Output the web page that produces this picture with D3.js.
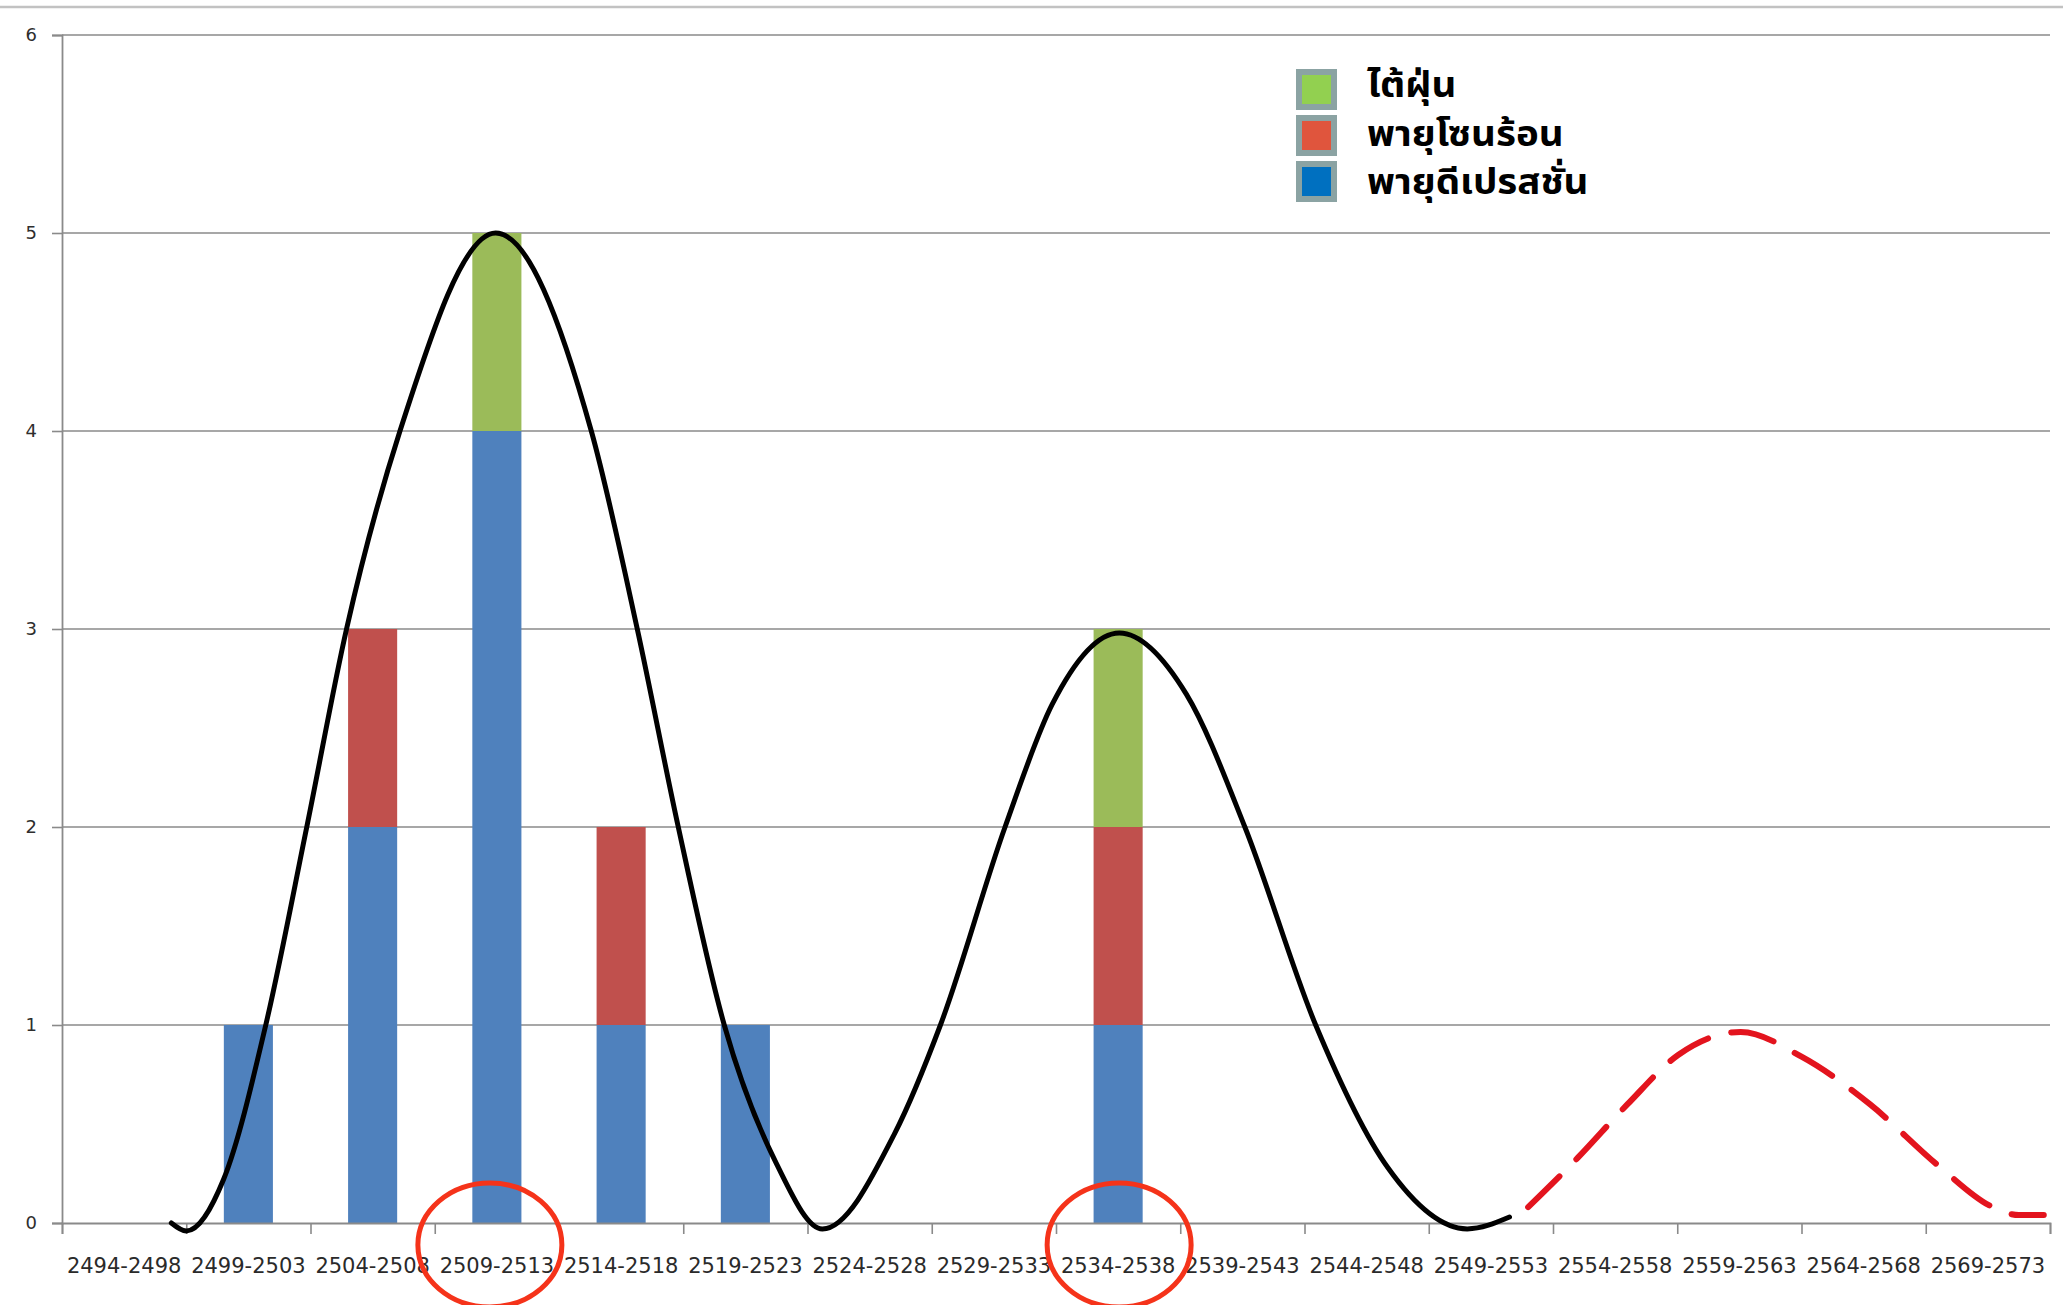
<!DOCTYPE html>
<html>
<head>
<meta charset="utf-8">
<script src="https://cdn.jsdelivr.net/npm/d3@7"></script>
<style>
  html, body { margin: 0; padding: 0; background: #ffffff; }
  svg { display: block; }
</style>
</head>
<body>
<svg id="chart" width="2063" height="1305"></svg>
<script>
// Five-year periods (Buddhist Era)
const categories = [
  '2494-2498', '2499-2503', '2504-2508', '2509-2513', '2514-2518', '2519-2523',
  '2524-2528', '2529-2533', '2534-2538', '2539-2543', '2544-2548', '2549-2553',
  '2554-2558', '2559-2563', '2564-2568', '2569-2573'
];
// Storm counts per period, stacked bottom to top
const depression    = [0, 1, 2, 4, 1, 1, 0, 0, 1, 0, 0, 0, 0, 0, 0, 0];
const tropicalStorm = [0, 0, 1, 0, 1, 0, 0, 0, 1, 0, 0, 0, 0, 0, 0, 0];
const typhoon       = [0, 0, 0, 1, 0, 0, 0, 0, 1, 0, 0, 0, 0, 0, 0, 0];

const seriesNames = ['พายุดีเปรสชั่น', 'พายุโซนร้อน', 'ไต้ฝุ่น'];
const yTicks = [0, 1, 2, 3, 4, 5, 6];

// Trend wave drawn over the bars: [year (B.E.), count]
const trendObserved = [
  [2498.4, 0.0], [2499.0, -0.04], [2500.5, 0.22], [2502.2, 1.0], [2503.85, 2.0],
  [2505.45, 3.0], [2507.6, 4.0], [2511.45, 5.0],
  [2515.3, 4.0], [2517.15, 3.0], [2518.8, 2.0], [2520.65, 1.0], [2522.75, 0.3],
  [2524.6, -0.03], [2527.5, 0.45], [2529.35, 1.0], [2531.95, 2.0], [2533.85, 2.62],
  [2536.55, 2.98], [2539.25, 2.67], [2541.6, 2.0], [2544.45, 1.0], [2547.35, 0.28],
  [2550.55, -0.03], [2552.25, 0.03]
];
// Projected continuation of the wave
const trendProjected = [
  [2553.0, 0.08], [2555.0, 0.33], [2557.0, 0.6], [2559.05, 0.85],
  [2561.55, 0.965], [2564.0, 0.84], [2566.75, 0.6], [2569.5, 0.29],
  [2571.7, 0.08], [2572.75, 0.04], [2573.75, 0.04]
];
// Periods highlighted with a ring around their label
const highlighted = ['2509-2513', '2534-2538'];

const barColors    = ['#4f81bd', '#c0504d', '#9bbb59'];
const legendColors = ['#0070c0', '#e0553d', '#92d050'];

const svg = d3.select('#chart');

const plot = { left: 62, right: 2050, top: 35, bottom: 1223 };

const x = d3.scaleBand()
  .domain(categories)
  .range([plot.left, plot.right])
  .paddingInner(0.605)
  .paddingOuter(0.3025);

const xYear = d3.scaleLinear()
  .domain([2494, 2494 + 5 * categories.length])
  .range([plot.left, plot.right]);

const y = d3.scaleLinear().domain([0, 6]).range([plot.bottom, plot.top]);

// Chart-area top border
svg.append('line')
  .attr('x1', 0).attr('x2', 2063).attr('y1', 7).attr('y2', 7)
  .attr('stroke', '#c2c2c2').attr('stroke-width', 2.5);

// Horizontal gridlines
svg.append('g')
  .selectAll('line')
  .data(yTicks.filter(d => d > 0))
  .join('line')
  .attr('x1', plot.left).attr('x2', plot.right)
  .attr('y1', d => y(d)).attr('y2', d => y(d))
  .attr('stroke', '#8a8a8a').attr('stroke-width', 1.6);

// Y axis
const yAxis = svg.append('g')
  .attr('transform', `translate(${plot.left},0)`)
  .call(d3.axisLeft(y).tickValues(yTicks).tickSize(10).tickPadding(15).tickFormat(d3.format('d')));
yAxis.select('.domain').attr('stroke', '#8a8a8a').attr('stroke-width', 1.8);
yAxis.selectAll('.tick line').attr('stroke', '#8a8a8a').attr('stroke-width', 1.6);
yAxis.selectAll('.tick text')
  .attr('font-family', 'DejaVu Sans, sans-serif')
  .attr('font-size', 18)
  .attr('fill', '#2e2e2e');

// Stacked bars
const stackData = categories.map((c, i) => ({
  cat: c, s0: depression[i], s1: tropicalStorm[i], s2: typhoon[i]
}));
const stacked = d3.stack().keys(['s0', 's1', 's2'])(stackData);

svg.append('g')
  .selectAll('g')
  .data(stacked)
  .join('g')
  .attr('fill', (d, i) => barColors[i])
  .selectAll('rect')
  .data(d => d.filter(p => p[1] > p[0]))
  .join('rect')
  .attr('x', d => x(d.data.cat))
  .attr('width', x.bandwidth())
  .attr('y', d => y(d[1]))
  .attr('height', d => y(d[0]) - y(d[1]));

// X axis: boundary ticks and baseline
const xAxis = svg.append('g')
  .attr('transform', `translate(0,${plot.bottom})`)
  .call(d3.axisBottom(xYear)
    .tickValues(d3.range(categories.length + 1).map(i => 2494 + 5 * i))
    .tickSize(11).tickFormat(''));
xAxis.select('.domain').attr('stroke', '#8a8a8a').attr('stroke-width', 1.8);
xAxis.selectAll('.tick line').attr('stroke', '#8a8a8a').attr('stroke-width', 1.6);

// X axis: period labels
const xLabels = svg.append('g')
  .attr('transform', `translate(0,${plot.bottom})`)
  .call(d3.axisBottom(x).tickSize(0).tickPadding(0));
xLabels.select('.domain').remove();
xLabels.selectAll('.tick text')
  .attr('y', 50).attr('dy', 0)
  .attr('font-family', 'DejaVu Sans, sans-serif')
  .attr('font-size', 21)
  .attr('fill', '#2a2a2a');

// Trend wave
const line = d3.line()
  .x(d => xYear(d[0]))
  .y(d => y(d[1]))
  .curve(d3.curveMonotoneX);

svg.append('path')
  .datum(trendObserved)
  .attr('d', line)
  .attr('fill', 'none')
  .attr('stroke', '#000000')
  .attr('stroke-width', 5)
  .attr('stroke-linecap', 'round');

svg.append('path')
  .datum(trendProjected)
  .attr('d', line)
  .attr('fill', 'none')
  .attr('stroke', '#e3141e')
  .attr('stroke-width', 6)
  .attr('stroke-linecap', 'round')
  .attr('stroke-dasharray', '44,24');

// Rings around highlighted period labels (hand-placed, slightly off-centre)
const ringShift = [-7, 1];
svg.append('g')
  .selectAll('ellipse')
  .data(highlighted)
  .join('ellipse')
  .attr('cx', (d, i) => x(d) + x.bandwidth() / 2 + ringShift[i])
  .attr('cy', plot.bottom + 22)
  .attr('rx', 72)
  .attr('ry', 62)
  .attr('fill', 'none')
  .attr('stroke', '#f5331a')
  .attr('stroke-width', 5);

// Legend (top series first); labels are set in a wide bold face
const legendOrder = [2, 1, 0];
const legend = svg.append('g').attr('transform', 'translate(1296,69)');
legend.selectAll('rect')
  .data(legendOrder)
  .join('rect')
  .attr('x', 3).attr('y', (d, i) => 3 + i * 46)
  .attr('width', 35).attr('height', 35)
  .attr('fill', d => legendColors[d])
  .attr('stroke', '#8ba3a3').attr('stroke-width', 6);
legend.selectAll('text')
  .data(legendOrder)
  .join('text')
  .attr('transform', (d, i) => `translate(71,${28 + i * 48.5}) scale(1.1,1)`)
  .attr('font-family', '"Noto Sans Thai", "Noto Sans", "DejaVu Sans", sans-serif')
  .attr('font-weight', 'bold')
  .attr('font-size', 35)
  .attr('fill', '#000000')
  .text(d => seriesNames[d]);
</script>
</body>
</html>
